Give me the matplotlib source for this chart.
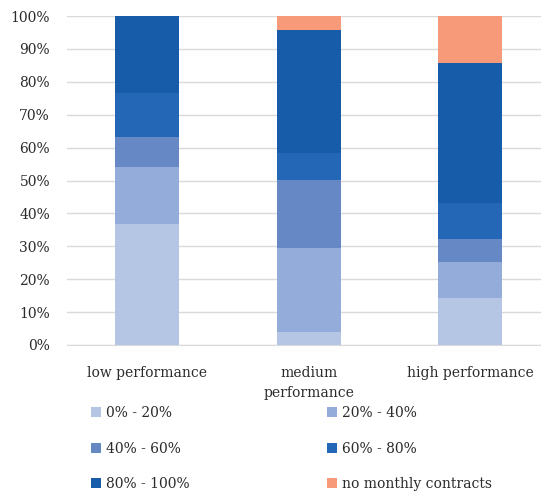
import matplotlib
matplotlib.use("Agg")
import matplotlib.pyplot as plt
from matplotlib.patches import Patch
from matplotlib.ticker import PercentFormatter

categories = ["low performance", "medium\nperformance", "high performance"]
series_names = ["0% - 20%", "20% - 40%", "40% - 60%", "60% - 80%", "80% - 100%",
                "no monthly contracts"]
share_0_20 = [36.8, 4.0, 14.4]
share_20_40 = [17.4, 25.4, 10.7]
share_40_60 = [8.9, 20.8, 7.1]
share_60_80 = [13.4, 8.3, 10.9]
share_80_100 = [23.5, 37.2, 42.5]
share_no_contract = [0.0, 4.3, 14.4]
y_ticks = [0, 10, 20, 30, 40, 50, 60, 70, 80, 90, 100]

colors = ["#b5c6e5", "#94acd9", "#6688c5", "#2467b6", "#175ca8", "#f69a79"]
series = [share_0_20, share_20_40, share_40_60, share_60_80, share_80_100,
          share_no_contract]

plt.rcParams["font.family"] = ["DejaVu Serif"]
W, H = 541, 501
fig = plt.figure(figsize=(W / 100, H / 100), dpi=100)
ax = fig.add_axes([66.75 / W, 1 - 345 / H, (551 - 66.75) / W, (345 - 16) / H])

x = list(range(len(categories)))
bottom = [0.0] * len(categories)
for vals, col, name in zip(series, colors, series_names):
    ax.bar(x, vals, width=0.396, bottom=bottom, color=col, label=name, zorder=3)
    bottom = [b + v for b, v in zip(bottom, vals)]

ax.set_xlim(-0.5, 2.5)
ax.set_ylim(0, 100)
ax.set_yticks(y_ticks)
ax.yaxis.set_major_formatter(PercentFormatter(decimals=0))
ax.grid(axis="y", color="#d9d9d9", linewidth=1.0, zorder=0)
for s in ["top", "right", "left"]:
    ax.spines[s].set_visible(False)
ax.spines["bottom"].set_color("#d9d9d9")
ax.tick_params(axis="both", length=0, labelsize=10, colors="#2b2b2b")
ax.tick_params(axis="y", pad=12)
ax.tick_params(axis="x", pad=15)
ax.set_xticks(x)
ax.set_xticklabels(categories, linespacing=1.6)

handles = [Patch(facecolor=c) for c in colors]
cols = [[0, 2, 4], [1, 3, 5]]
anchors = [(91 / W, 1 - 406 / H), (327 / W, 1 - 406 / H)]
for idx, anc in zip(cols, anchors):
    leg = fig.legend([handles[i] for i in idx], [series_names[i] for i in idx],
                     loc="upper left", bbox_to_anchor=anc, frameon=False,
                     fontsize=10, handlelength=0.7, handleheight=0.7,
                     handletextpad=0.4, labelspacing=1.55, borderpad=0,
                     borderaxespad=0)
    for t in leg.get_texts():
        t.set_color("#2b2b2b")

fig.savefig("out.png", dpi=100)
